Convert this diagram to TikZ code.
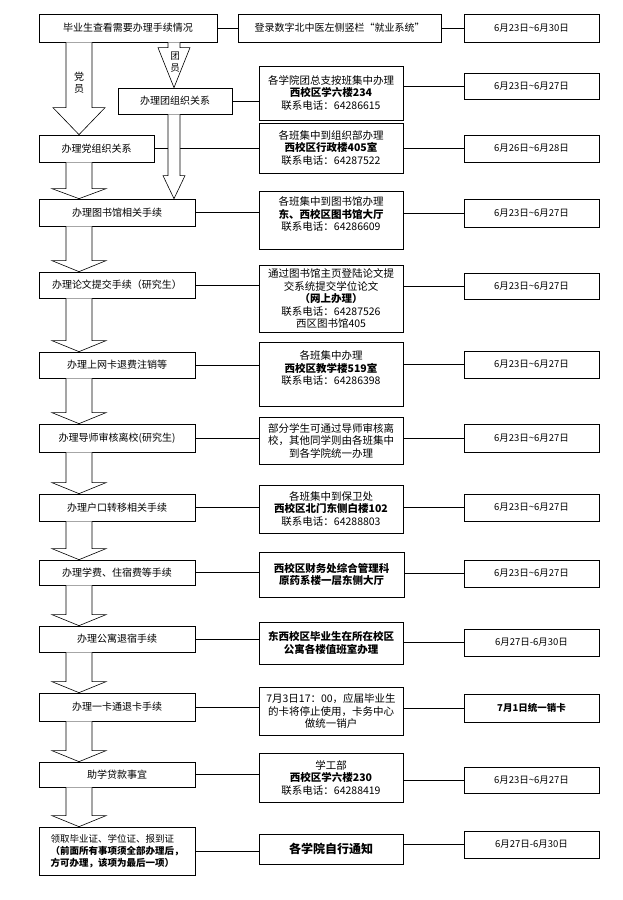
\documentclass[tikz,border=0pt]{standalone}
\usepackage{fontspec}
\setmainfont{Noto Sans CJK SC}
\usetikzlibrary{calc}
\newcommand{\tld}{\textasciitilde}
% hollow block arrow: from, to, x coordinate, shaft half width, head half width, head length
\newcommand{\blockarrow}[6]{%
  \draw[blockarr] ($(#1.south -| #3)+(-#4,0)$) -- ($(#2.north -| #3)+(-#4,-#6)$)
    -- ($(#2.north -| #3)+(-#5,-#6)$) -- (#2.north -| #3)
    -- ($(#2.north -| #3)+(#5,-#6)$) -- ($(#2.north -| #3)+(#4,-#6)$)
    -- ($(#1.south -| #3)+(#4,0)$);}

\begin{document}
\begin{tikzpicture}[x=1pt, y=-1pt,
      procbox/.style={draw, line width=0.7pt, align=center, inner sep=2pt,
                      minimum width=156, font=\fontsize{10}{12}\selectfont},
      infobox/.style={draw, line width=0.7pt, align=center, inner sep=2pt,
                      minimum width=144, font=\fontsize{10.5}{12.5}\selectfont},
      datebox/.style={draw, line width=0.7pt, inner sep=2pt,
                      minimum width=135, font=\fontsize{9.5}{11}\selectfont},
      link/.style={draw, line width=0.7pt},
      blockarr/.style={draw, fill=white, line width=0.6pt},
      lbl/.style={align=center, font=\fontsize{10}{12}\selectfont}]
    \useasboundingbox (0,0) rectangle (623,900);
    \coordinate (ax) at (79,0);
    \coordinate (tx) at (174,0);

    % start
    \node[procbox, minimum width=178, minimum height=28] (check) at (128,28) {毕业生查看需要办理手续情况};
    \node[infobox, minimum width=203, minimum height=28, font=\fontsize{10}{12}\selectfont] (i-check) at (339.5,28) {登录数字北中医左侧竖栏“就业系统”};
    \node[datebox, minimum height=28] (d-check) at (531.5,28) {6月23日\tld6月30日};

    % left column
    \node[procbox, minimum width=114, minimum height=26] (tuan) at (175,101) {办理团组织关系};
    \node[procbox, minimum width=115, minimum height=27] (dang) at (96.5,148.5) {办理党组织关系};
    \node[procbox, minimum height=27] (lib)    at (117,212.5) {办理图书馆相关手续};
    \node[procbox, minimum height=26] (thesis) at (117,285)   {办理论文提交手续（研究生）};
    \node[procbox, minimum height=26] (net)    at (117,365)   {办理上网卡退费注销等};
    \node[procbox, minimum height=28] (tutor)  at (117,438)   {办理导师审核离校(研究生)};
    \node[procbox, minimum height=27] (hukou)  at (117,507.5) {办理户口转移相关手续};
    \node[procbox, minimum height=25] (fee)    at (117,572.5) {办理学费、住宿费等手续};
    \node[procbox, minimum height=26] (dorm)   at (117,639)   {办理公寓退宿手续};
    \node[procbox, minimum height=28] (card)   at (117,707)   {办理一卡通退卡手续};
    \node[procbox, minimum height=25] (loan)   at (117,774.5) {助学贷款事宜};
    \node[procbox, minimum height=48, align=left, inner xsep=6pt,
          font=\fontsize{9.5}{12}\selectfont] (cert) at (117,851)
          {领取毕业证、学位证、报到证\\\textbf{（前面所有事项须全部办理后，}\\\textbf{方可办理，该项为最后一项）}};

    % where
    \node[infobox, minimum height=54] (i-tuan)   at (331,93)    {各学院团总支按班集中办理\\\textbf{西校区学六楼234}\\联系电话：64286615};
    \node[infobox, minimum height=50] (i-dang)   at (331,148)   {各班集中到组织部办理\\\textbf{西校区行政楼405室}\\联系电话：64287522};
    \node[infobox, minimum height=58] (i-lib)    at (331,220)   {各班集中到图书馆办理\\\textbf{东、西校区图书馆大厅}\\联系电话：64286609\\\mbox{}};
    \node[infobox, minimum height=67] (i-thesis) at (331,298.5) {通过图书馆主页登陆论文提\\交系统提交学位论文\\\textbf{（网上办理）}\\联系电话：64287526\\西区图书馆405};
    \node[infobox, minimum height=64] (i-net)    at (331,374)   {各班集中办理\\\textbf{西校区教学楼519室}\\联系电话：64286398\\\mbox{}};
    \node[infobox, minimum height=47] (i-tutor)  at (331,440.5) {部分学生可通过导师审核离\\校，其他同学则由各班集中\\到各学院统一办理};
    \node[infobox, minimum height=48] (i-hukou)  at (331,509)   {各班集中到保卫处\\\textbf{西校区北门东侧白楼102}\\联系电话：64288803};
    \node[infobox, minimum width=145, minimum height=45] (i-fee) at (331.5,574.5) {\textbf{西校区财务处综合管理科}\\\textbf{原药系楼一层东侧大厅}};
    \node[infobox, minimum height=42] (i-dorm)   at (331,643)   {\textbf{东西校区毕业生在所在校区}\\\textbf{公寓各楼值班室办理}};
    \node[infobox, minimum height=48] (i-card)   at (331,711)   {7月3日17：00，应届毕业生\\的卡将停止使用，卡务中心\\做统一销户};
    \node[infobox, minimum height=49] (i-loan)   at (331,777.5) {学工部\\\textbf{西校区学六楼230}\\联系电话：64288419};
    \node[infobox, minimum height=30, font=\fontsize{12}{14}\selectfont\bfseries] (i-cert) at (331,849) {各学院自行通知};

    % when
    \node[datebox, minimum height=26] (d-tuan)   at (531.5,86)    {6月23日\tld6月27日};
    \node[datebox, minimum height=27] (d-dang)   at (531.5,148.5) {6月26日\tld6月28日};
    \node[datebox, minimum height=28] (d-lib)    at (531.5,213)   {6月23日\tld6月27日};
    \node[datebox, minimum height=26] (d-thesis) at (531.5,286)   {6月23日\tld6月27日};
    \node[datebox, minimum height=27] (d-net)    at (531.5,364.5) {6月23日\tld6月27日};
    \node[datebox, minimum height=28] (d-tutor)  at (531.5,438)   {6月23日\tld6月27日};
    \node[datebox, minimum height=27] (d-hukou)  at (531.5,507.5) {6月23日\tld6月27日};
    \node[datebox, minimum height=27] (d-fee)    at (531.5,573.5) {6月23日\tld6月27日};
    \node[datebox, minimum height=27] (d-dorm)   at (531.5,642.5) {6月27日-6月30日};
    \node[datebox, minimum height=28] (d-card)   at (531.5,708)   {\textbf{7月1日统一销卡}};
    \node[datebox, minimum height=26] (d-loan)   at (531.5,780)   {6月23日\tld6月27日};
    \node[datebox, minimum height=27] (d-cert)   at (531.5,844.5) {6月27日-6月30日};

    % connectors
    \foreach \n in {check,tuan,dang,lib,thesis,net,tutor,hukou,fee,dorm,card,loan,cert} {
      \draw[link] (\n.east) -- (\n.east -| i-\n.west);
      \draw[link] (d-\n.west -| i-\n.east) -- (d-\n.west);
    }

    % flow arrows
    \blockarrow{check}{dang}{ax}{13}{26}{27}
    \blockarrow{check}{tuan}{tx}{6}{16}{40}
    \blockarrow{tuan}{lib}{tx}{6}{11}{23}
    \blockarrow{dang}{lib}{ax}{13}{27}{10}
    \foreach \a/\b in {lib/thesis,thesis/net,net/tutor,tutor/hukou,hukou/fee,fee/dorm,dorm/card,card/loan,loan/cert}
      \blockarrow{\a}{\b}{ax}{13}{27}{11};
    \node[lbl] (dangyuan) at (79,83) {党\\员};
    \node[lbl, font=\fontsize{9.5}{12}\selectfont] (tuanyuan) at (175,62) {团\\员};
  \end{tikzpicture}
\end{document}
